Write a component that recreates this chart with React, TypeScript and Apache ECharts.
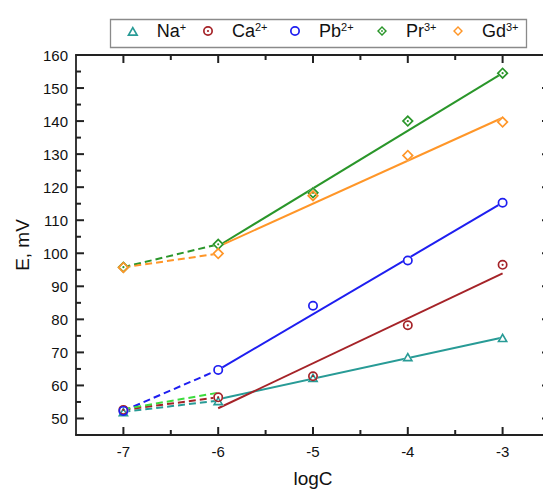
import React, { useEffect, useRef } from 'react';
import * as echarts from 'echarts';

// ---- data ----
const logC = [-7, -6, -5, -4, -3];
const ionBase = ['Na', 'Ca', 'Pb', 'Pr', 'Gd'];
const ionCharge = ['+', '2+', '2+', '3+', '3+'];
const naE = [52.0, 55.4, 62.4, 68.7, 74.5];
const caE = [52.6, 56.4, 62.8, 78.2, 96.5];
const pbE = [52.3, 64.7, 84.1, 97.8, 115.3];
const prE = [95.8, 102.7, 118.3, 140.0, 154.5];
const gdE = [95.7, 99.9, 117.4, 129.6, 139.7];
const fitX = [-6, -3];
const naFit = [55.8, 74.5];
const caFit = [53.1, 93.9];
const pbFit = [64.7, 115.3];
const prFit = [102.2, 154.5];
const gdFit = [102.0, 141.0];
const extraX = [-7, -6];
const extraGreen = [52.8, 57.8];

// axis ranges and tick values
const X_MIN = -7.5;
const X_MAX = -2.5;
const Y_MIN = 45;
const Y_MAX = 160;
const xMajorTicks = [-7, -6, -5, -4, -3];
const xMinorTicks = [-6.5, -5.5, -4.5, -3.5];
const yMajorTicks = [50, 60, 70, 80, 90, 100, 110, 120, 130, 140, 150];
const yMinorTicks = [55, 65, 75, 85, 95, 105, 115, 125, 135, 145, 155];

const FONT = '"Liberation Sans", Arial, Helvetica, sans-serif';
const INK = '#111';
const AXIS = '#222';

const colors = ['#289b96', '#a52328', '#1e1ef0', '#2a962a', '#ff9628'];
const values = [naE, caE, pbE, prE, gdE];
const fits = [naFit, caFit, pbFit, prFit, gdFit];

const DOT = 'M0,-1.1A1.1,1.1,0,1,1,0,1.1A1.1,1.1,0,1,1,0,-1.1Z';
const CIRCLE = 'M0,-5A5,5,0,1,1,0,5A5,5,0,1,1,0,-5ZM0,-3.3A3.3,3.3,0,1,0,0,3.3A3.3,3.3,0,1,0,0,-3.3Z';
const TRI = 'M0,-5L5.5,4.5L-5.5,4.5ZM0,-1.8L-2.72,2.9L2.72,2.9Z';
const DIA = 'M0,-6L6,0L0,6L-6,0ZM0,-3.6L-3.6,0L0,3.6L3.6,0Z';

const ringSymbols = [
  'path://' + TRI,
  'path://' + CIRCLE + DOT,
  'path://' + CIRCLE,
  'path://' + DIA + DOT,
  'path://' + DIA,
];
const bgSymbols = ['triangle', 'circle', 'circle', 'diamond', 'diamond'];
const symSizes: any[] = [[11, 9.5], 10, 10, 12, 12];
const legendLeft = [127, 203, 290, 377, 453];

const MAJOR_LEN = 8;
const MINOR_LEN = 5;

const pairs = (xs: number[], ys: number[]) => xs.map((x, i) => [x, ys[i]]);

function buildOption() {
  const names = ionBase.map((b, i) => b + ionCharge[i]);
  const series: any[] = [];
  const tickStyle = { stroke: AXIS, lineWidth: 2 };

  // ticks (drawn through the cartesian coordinate system)
  series.push({
    type: 'custom', name: 'x-ticks', silent: true, z: 1, clip: false,
    data: [...xMajorTicks.map((v) => [v, Y_MIN, 0]), ...xMinorTicks.map((v) => [v, Y_MIN, 1])],
    renderItem: (_p: any, api: any) => {
      const v = api.value(0);
      const len = api.value(2) === 0 ? MAJOR_LEN : MINOR_LEN;
      const b = api.coord([v, Y_MIN]);
      const t = api.coord([v, Y_MAX]);
      return {
        type: 'group',
        children: [
          { type: 'line', shape: { x1: b[0], y1: b[1], x2: b[0], y2: b[1] - len }, style: tickStyle },
          { type: 'line', shape: { x1: t[0], y1: t[1], x2: t[0], y2: t[1] + len }, style: tickStyle },
        ],
      };
    },
  });
  series.push({
    type: 'custom', name: 'y-ticks', silent: true, z: 1, clip: false,
    data: [...yMajorTicks.map((v) => [X_MIN, v, 0]), ...yMinorTicks.map((v) => [X_MIN, v, 1])],
    renderItem: (_p: any, api: any) => {
      const v = api.value(1);
      const len = api.value(2) === 0 ? MAJOR_LEN : MINOR_LEN;
      const l = api.coord([X_MIN, v]);
      const r = api.coord([X_MAX, v]);
      return {
        type: 'group',
        children: [
          { type: 'line', shape: { x1: l[0], y1: l[1], x2: l[0] + len, y2: l[1] }, style: tickStyle },
          { type: 'line', shape: { x1: r[0], y1: r[1], x2: r[0] - len, y2: r[1] }, style: tickStyle },
        ],
      };
    },
  });

  values.forEach((v, i) => {
    series.push({
      type: 'line', name: names[i] + '-dash', silent: true, z: 2,
      data: pairs(logC.slice(0, 2), v.slice(0, 2)),
      symbol: 'none', showSymbol: false,
      lineStyle: { color: colors[i], width: 2, type: [7, 4] },
    });
  });
  series.push({
    type: 'line', name: 'extra-dash', silent: true, z: 2,
    data: pairs(extraX, extraGreen), symbol: 'none', showSymbol: false,
    lineStyle: { color: '#3ddc3d', width: 2, type: [7, 4] },
  });
  fits.forEach((f, i) => {
    series.push({
      type: 'line', name: names[i] + '-fit', silent: true, z: 2,
      data: pairs(fitX, f), symbol: 'none', showSymbol: false,
      lineStyle: { color: colors[i], width: 2 },
    });
  });
  values.forEach((v, i) => {
    series.push({
      type: 'scatter', name: names[i] + '-bg', silent: true, z: 3,
      data: pairs(logC, v), symbol: bgSymbols[i], symbolSize: symSizes[i],
      itemStyle: { color: '#ffffff', opacity: 1, borderWidth: 0 },
    });
    series.push({
      type: 'scatter', name: names[i], silent: true, z: 4,
      data: pairs(logC, v), symbol: ringSymbols[i], symbolSize: symSizes[i],
      itemStyle: { color: colors[i], opacity: 1, borderWidth: 0 },
    });
  });

  const rich = () => ({
    b: { fontSize: 18, lineHeight: 20, fontFamily: FONT, color: INK },
    s: { fontSize: 11, lineHeight: 10, verticalAlign: 'top', fontFamily: FONT, color: INK },
  });
  const legend = names.map((n, i) => ({
    data: [n], left: legendLeft[i], top: 21, padding: 0,
    itemWidth: 38, itemHeight: 10, itemGap: 0, selectedMode: false,
    formatter: () => `{b|${ionBase[i]}}{s|${ionCharge[i]}}`,
    textStyle: { fontFamily: FONT, fontSize: 18, color: INK, rich: rich() },
  }));

  const axLine = () => ({ show: true, onZero: false, lineStyle: { color: AXIS, width: 1.8 } });
  const noTick = () => ({ show: false });
  const noLabel = () => ({ show: false });
  const xR = () => ({ type: 'value', min: X_MIN, max: X_MAX, splitLine: { show: false } });
  const yR = () => ({ type: 'value', min: Y_MIN, max: Y_MAX, splitLine: { show: false } });

  const xAxis = [
    {
      ...xR(), position: 'bottom', minInterval: 1, maxInterval: 1,
      axisLine: axLine(), axisTick: noTick(),
      axisLabel: { show: true, margin: 9, fontSize: 15, color: INK, fontFamily: FONT, showMinLabel: false, showMaxLabel: false },
      name: 'logC', nameLocation: 'middle', nameGap: 34,
      nameTextStyle: { fontSize: 19, color: INK, fontFamily: FONT },
    },
    { ...xR(), position: 'top', minInterval: 1, maxInterval: 1, axisLine: axLine(), axisTick: noTick(), axisLabel: noLabel() },
  ];
  const yAxis = [
    {
      ...yR(), position: 'left', minInterval: 10, maxInterval: 10,
      axisLine: axLine(), axisTick: noTick(),
      axisLabel: { show: true, margin: 8, fontSize: 15, color: INK, fontFamily: FONT, showMinLabel: false },
      name: 'E, mV', nameLocation: 'middle', nameGap: 44,
      nameTextStyle: { fontSize: 19, color: INK, fontFamily: FONT },
    },
    { ...yR(), position: 'right', minInterval: 10, maxInterval: 10, axisLine: axLine(), axisTick: noTick(), axisLabel: noLabel() },
  ];

  return {
    animation: false,
    backgroundColor: '#ffffff',
    grid: { left: 76, top: 55, right: 20, bottom: 65 },
    legend,
    graphic: [
      {
        type: 'rect', left: 108, top: 17, z: 0, silent: true,
        shape: { width: 416, height: 28 },
        style: { fill: 'none', stroke: '#8a8a8a', lineWidth: 1.3 },
      },
    ],
    xAxis,
    yAxis,
    series,
  };
}

export default function App() {
  const ref = useRef<HTMLDivElement>(null);
  useEffect(() => {
    const chart = echarts.init(ref.current!, undefined, { renderer: 'svg' });
    chart.setOption(buildOption() as any);
    return () => chart.dispose();
  }, []);
  return (
    <div style={{ position: 'absolute', left: 0, top: 0, width: 543, height: 490, overflow: 'hidden', background: '#fff' }}>
      <div ref={ref} style={{ width: 570, height: 500 }} />
    </div>
  );
}
